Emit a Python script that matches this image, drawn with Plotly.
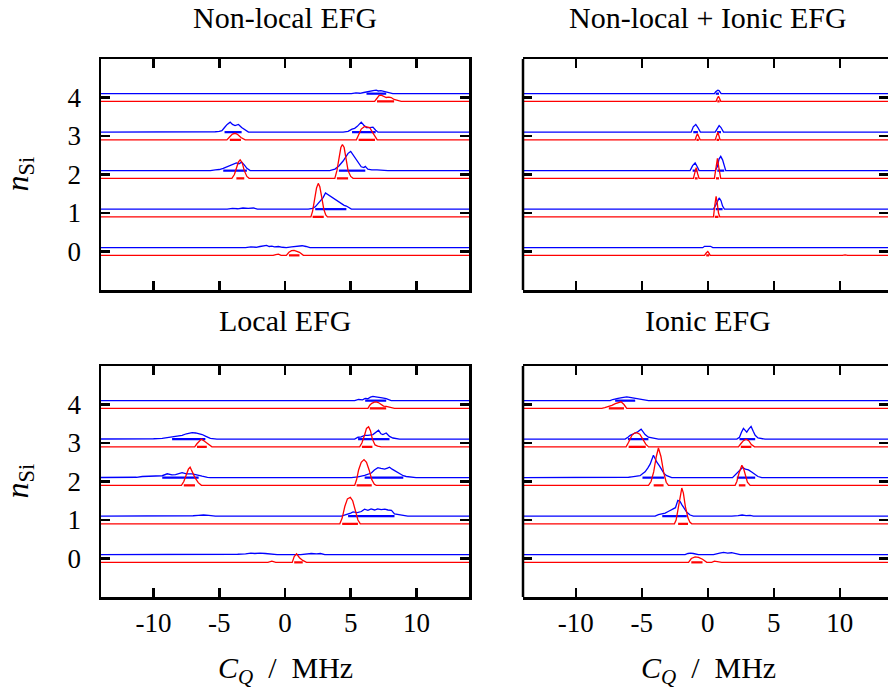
import plotly.graph_objects as go

W, H = 888, 695

# ---------------- data (C_Q in MHz, relative density heights) ----------------
PANEL_TITLES = ["Non-local EFG", "Non-local + Ionic EFG", "Local EFG", "Ionic EFG"]
X_TICKS = [-10, -5, 0, 5, 10]
Y_TICKS = [0, 1, 2, 3, 4]

# Non-local EFG
NL_BLUE_X = [
    [-3.0, -2.6, -2.2, -1.9, -1.6, -1.4, -1.2, -1.0, -0.8, -0.5, -0.2, 0.1, 0.5, 0.8, 1.0, 1.3, 1.6, 1.9],
    [-4.4, -4.0, -3.6, -3.2, -2.8, -2.4, -2.1, 1.77, 2.1, 2.3, 2.5, 2.73, 2.9, 3.08, 3.25, 3.41, 3.6, 3.79, 4.0, 4.29, 4.5, 4.67, 4.85, 5.05],
    [-5.68, -5.3, -5.0, -4.7, -4.4, -4.1, -3.9, -3.7, -3.5, -3.3, -3.1, -2.9, -2.65, 3.4, 3.8, 4.1, 4.42, 4.6, 4.8, 5.0, 5.2, 5.4, 5.56, 5.8, 6.0, 6.11, 6.3, 6.6, 7.0, 7.4, 7.83],
    [-5.68, -5.3, -5.0, -4.8, -4.6, -4.4, -4.17, -4.0, -3.8, -3.54, -3.3, -3.0, -2.78, 4.42, 4.8, 5.1, 5.3, 5.5, 5.8, 6.0, 6.2, 6.45, 6.69, 6.9, 7.07],
    [5.05, 5.4, 5.7, 6.0, 6.2, 6.5, 6.7, 6.94, 7.1, 7.3, 7.5, 7.7, 7.9, 8.2],
]
NL_BLUE_H = [
    [0, 0.02, 0.01, 0.03, 0.04, 0.06, 0.03, 0.04, 0.02, 0.03, 0.01, 0, 0.02, 0.03, 0.04, 0.05, 0.03, 0],
    [0, 0.02, 0.01, 0.03, 0.02, 0.03, 0, 0, 0.02, 0.06, 0.15, 0.24, 0.3, 0.42, 0.38, 0.35, 0.31, 0.27, 0.22, 0.15, 0.1, 0.08, 0.04, 0],
    [0, 0.02, 0.03, 0.06, 0.1, 0.15, 0.17, 0.2, 0.18, 0.22, 0.15, 0.06, 0, 0, 0.04, 0.12, 0.25, 0.33, 0.45, 0.5, 0.4, 0.3, 0.2, 0.1, 0.08, 0.11, 0.04, 0.02, 0.02, 0.01, 0],
    [0, 0.01, 0.02, 0.04, 0.12, 0.2, 0.26, 0.2, 0.17, 0.2, 0.12, 0.04, 0, 0, 0.02, 0.08, 0.1, 0.15, 0.26, 0.18, 0.12, 0.12, 0.13, 0.05, 0],
    [0, 0.02, 0.01, 0.03, 0.05, 0.06, 0.08, 0.09, 0.07, 0.08, 0.06, 0.05, 0.03, 0],
]
NL_RED_X = [
    [-0.9, -0.7, -0.5, -0.3, 0.1, 0.3, 0.5, 0.7, 0.9, 1.1, 1.4, 10.4, 10.6, 10.8],
    [1.97, 2.1, 2.25, 2.4, 2.53, 2.65, 2.8, 2.95, 3.1, 3.23],
    [-4.04, -3.85, -3.7, -3.55, -3.41, -3.25, -3.1, -2.9, -2.73, 3.79, 3.95, 4.1, 4.25, 4.37, 4.5, 4.65, 4.8, 5.0, 5.18],
    [-4.42, -4.2, -4.0, -3.79, -3.6, -3.35, -3.03, 5.43, 5.6, 5.8, 6.06, 6.25, 6.44, 6.65, 6.85, 7.02],
    [6.82, 7.0, 7.15, 7.32, 7.5, 7.7, 7.9, 8.08, 8.3, 8.55, 8.84],
]
NL_RED_H = [
    [0, 0.02, 0.03, 0, 0, 0.08, 0.12, 0.13, 0.11, 0.08, 0, 0, 0.015, 0],
    [0, 0.15, 0.45, 0.75, 0.87, 0.78, 0.5, 0.2, 0.05, 0],
    [0, 0.1, 0.25, 0.42, 0.48, 0.4, 0.2, 0.05, 0, 0, 0.2, 0.5, 0.8, 0.88, 0.8, 0.5, 0.2, 0.05, 0],
    [0, 0.08, 0.15, 0.17, 0.14, 0.06, 0, 0, 0.12, 0.28, 0.35, 0.34, 0.32, 0.2, 0.08, 0],
    [0, 0.08, 0.15, 0.16, 0.14, 0.1, 0.11, 0.1, 0.05, 0.02, 0],
]

# Non-local + Ionic EFG
NLI_BLUE_X = [
    [-0.38, -0.25, -0.1, 0.05, 0.2, 0.38],
    [-0.85, -0.7, -0.55, 0.43, 0.6, 0.75, 0.86, 1.0, 1.12, 1.26],
    [-1.34, -1.15, -0.96, -0.8, -0.66, 0.56, 0.72, 0.85, 0.98, 1.12, 1.25, 1.36],
    [-1.26, -1.1, -0.91, -0.75, -0.56, 0.56, 0.7, 0.86, 1.0, 1.19],
    [0.5, 0.6, 0.7, 0.76, 0.85, 0.92, 1.01],
]
NLI_BLUE_H = [
    [0, 0.035, 0.04, 0.03, 0.035, 0],
    [0, 0.01, 0, 0, 0.1, 0.24, 0.29, 0.22, 0.08, 0],
    [0, 0.13, 0.2, 0.1, 0, 0, 0.1, 0.3, 0.37, 0.28, 0.1, 0],
    [0, 0.14, 0.2, 0.12, 0, 0, 0.1, 0.17, 0.12, 0],
    [0, 0.05, 0.08, 0.09, 0.08, 0.04, 0],
]
NLI_RED_X = [
    [-0.25, -0.12, 0.0, 0.1, 0.18, 10.2, 10.4, 10.6],
    [0.43, 0.53, 0.63, 0.72, 0.81, 0.91],
    [-1.09, -0.98, -0.88, -0.77, -0.66, 0.5, 0.62, 0.73, 0.85, 0.98],
    [-0.96, -0.86, -0.78, -0.68, -0.58, 0.56, 0.66, 0.76, 0.85, 0.93],
    [0.63, 0.72, 0.81, 0.9, 0.98],
]
NLI_RED_H = [
    [0, 0.06, 0.1, 0.05, 0, 0, 0.01, 0],
    [0, 0.3, 0.53, 0.35, 0.1, 0],
    [0, 0.15, 0.28, 0.12, 0, 0, 0.3, 0.52, 0.25, 0],
    [0, 0.1, 0.16, 0.08, 0, 0, 0.12, 0.2, 0.1, 0],
    [0, 0.08, 0.13, 0.07, 0],
]

# Local EFG
L_BLUE_X = [
    [-4.17, -3.6, -3.0, -2.6, -2.3, -1.9, -1.5, -1.0, -0.6, 1.2, 1.6, 2.0, 2.4, 2.7, 3.03],
    [-7.95, -7.5, -7.0, -6.6, -6.2, -5.8, -5.3, 4.29, 4.6, 4.8, 5.0, 5.18, 5.5, 5.81, 6.05, 6.31, 6.55, 6.82, 7.05, 7.32, 7.6, 7.83, 8.1, 8.33, 8.6, 8.84, 9.34],
    [-11.87, -11.3, -10.86, -10.3, -9.8, -9.34, -8.96, -8.6, -8.33, -8.05, -7.83, -7.5, -7.07, -6.8, -6.57, -6.31, -5.9, -5.68,
     5.05, 5.56, 6.06, 6.3, 6.57, 6.8, 7.07, 7.3, 7.58, 7.8, 7.95, 8.15, 8.33, 8.71, 9.0, 9.22, 9.6, 9.97],
    [-10.48, -10.0, -9.34, -9.0, -8.59, -8.2, -7.83, -7.5, -7.07, -6.8, -6.57, -6.3, -6.06, -5.68, -5.18,
     5.3, 5.56, 5.8, 6.06, 6.3, 6.69, 6.9, 7.12, 7.3, 7.45, 7.7, 7.95, 8.21, 8.71],
    [5.3, 5.6, 5.9, 6.1, 6.3, 6.5, 6.69, 6.9, 7.1, 7.4, 7.7, 8.08],
]
L_BLUE_H = [
    [0, 0.01, 0.02, 0.04, 0.03, 0.04, 0.03, 0.02, 0, 0, 0.02, 0.03, 0.02, 0.03, 0],
    [0, 0.01, 0.01, 0.02, 0.03, 0.02, 0, 0, 0.03, 0.06, 0.08, 0.11, 0.09, 0.12, 0.18, 0.15, 0.19, 0.16, 0.19, 0.17, 0.18, 0.16, 0.15, 0.06, 0.04, 0.03, 0],
    [0, 0.01, 0.03, 0.04, 0.03, 0.05, 0.1, 0.07, 0.08, 0.1, 0.13, 0.1, 0.1, 0.08, 0.07, 0.04, 0.01, 0,
     0, 0.02, 0.06, 0.09, 0.12, 0.2, 0.26, 0.24, 0.22, 0.25, 0.27, 0.22, 0.18, 0.1, 0.05, 0.03, 0.02, 0],
    [0, 0.01, 0.02, 0.04, 0.06, 0.09, 0.1, 0.14, 0.17, 0.16, 0.15, 0.12, 0.08, 0.02, 0,
     0, 0.05, 0.06, 0.1, 0.1, 0.12, 0.18, 0.23, 0.14, 0.12, 0.16, 0.07, 0.03, 0],
    [0, 0.03, 0.02, 0.06, 0.05, 0.09, 0.11, 0.1, 0.08, 0.07, 0.05, 0],
]
L_RED_X = [
    [-9.9, -9.7, -9.5, -1.3, -1.0, -0.7, 0.55, 0.7, 0.88, 1.1, 1.35, 1.64],
    [4.17, 4.35, 4.55, 4.75, 4.97, 5.15, 5.35, 5.55, 5.73],
    [-7.88, -7.7, -7.5, -7.35, -7.22, -7.05, -6.85, -6.6, -6.36, 5.3, 5.45, 5.6, 5.8, 6.01, 6.2, 6.4, 6.6, 6.8, 6.94],
    [-6.87, -6.7, -6.5, -6.36, -6.15, -5.95, -5.75, -5.56, 5.68, 5.85, 6.05, 6.2, 6.36, 6.5, 6.65, 6.85, 7.05, 7.32],
    [6.31, 6.45, 6.6, 6.8, 6.94, 7.1, 7.3, 7.5, 7.7, 7.9, 8.33],
]
L_RED_H = [
    [0, 0.01, 0, 0, 0.03, 0, 0, 0.15, 0.22, 0.12, 0.05, 0],
    [0, 0.15, 0.45, 0.65, 0.69, 0.6, 0.35, 0.1, 0],
    [0, 0.1, 0.28, 0.42, 0.47, 0.35, 0.2, 0.07, 0, 0, 0.15, 0.4, 0.6, 0.67, 0.6, 0.4, 0.15, 0.03, 0],
    [0, 0.08, 0.16, 0.2, 0.15, 0.1, 0.04, 0, 0, 0.1, 0.3, 0.48, 0.52, 0.42, 0.2, 0.05, 0.02, 0],
    [0, 0.08, 0.13, 0.16, 0.17, 0.15, 0.1, 0.06, 0.05, 0.03, 0],
]

# Ionic EFG
I_BLUE_X = [
    [-1.72, -1.5, -1.3, -1.1, -0.9, -0.71, 0.43, 0.7, 0.9, 1.2, 1.5, 1.8, 2.1, 2.45],
    [-3.99, -3.74, -3.45, -3.23, -3.0, -2.85, -2.6, -2.45, -2.27, -2.1, -1.97, -1.8, -1.59, -1.34, -1.09,
     1.82, 2.1, 2.3, 2.6, 2.9, 3.2, 3.46],
    [-6.52, -6.0, -5.76, -5.4, -5.13, -4.95, -4.75, -4.55, -4.37, -4.12, -3.86, -3.65, -3.48, -3.3, -3.11, -2.73,
     1.87, 2.05, 2.2, 2.45, 2.63, 2.85, 3.08, 3.35, 3.59, 3.8, 4.09],
    [-6.26, -6.05, -5.88, -5.63, -5.35, -5.05, -4.9, -4.75, -4.5, -4.24, -3.74,
     2.2, 2.4, 2.55, 2.7, 2.85, 2.95, 3.1, 3.28, 3.45, 3.59, 3.8, 4.09, 4.34],
    [-7.4, -7.2, -7.02, -6.8, -6.5, -6.14, -5.8, -5.5, -5.2, -5.0, -4.75, -4.49],
]
I_BLUE_H = [
    [0, 0.03, 0.04, 0.03, 0.02, 0, 0, 0.03, 0.04, 0.06, 0.04, 0.05, 0.03, 0],
    [0, 0.04, 0.06, 0.08, 0.12, 0.15, 0.2, 0.22, 0.41, 0.38, 0.3, 0.2, 0.1, 0.03, 0,
     0, 0.02, 0.015, 0.03, 0.015, 0.02, 0],
    [0, 0.01, 0.02, 0.03, 0.05, 0.1, 0.15, 0.25, 0.35, 0.58, 0.4, 0.3, 0.2, 0.1, 0.05, 0,
     0, 0.06, 0.12, 0.2, 0.26, 0.22, 0.2, 0.14, 0.08, 0.03, 0],
    [0, 0.05, 0.1, 0.14, 0.18, 0.26, 0.18, 0.12, 0.05, 0.03, 0,
     0, 0.05, 0.18, 0.28, 0.22, 0.18, 0.26, 0.33, 0.2, 0.1, 0.03, 0.02, 0],
    [0, 0.03, 0.05, 0.06, 0.08, 0.1, 0.08, 0.06, 0.04, 0.03, 0.02, 0],
]
I_RED_X = [
    [-1.46, -1.25, -0.96, -0.7, -0.4, -0.08, 0.3, 0.5, 0.7, 1.06],
    [-2.53, -2.4, -2.25, -2.1, -1.97, -1.85, -1.7, -1.5, -1.35, -1.21],
    [-4.49, -4.3, -4.1, -3.9, -3.74, -3.55, -3.35, -3.15, -2.98, 2.07, 2.2, 2.35, 2.5, 2.58, 2.7, 2.85, 3.0, 3.21],
    [-6.19, -6.0, -5.75, -5.55, -5.38, -5.15, -4.9, -4.7, -4.49, 2.32, 2.5, 2.7, 2.9, 3.1, 3.3, 3.54],
    [-8.03, -7.8, -7.5, -7.27, -7.0, -6.8, -6.57, -6.35, -6.14],
]
I_RED_H = [
    [0, 0.1, 0.14, 0.13, 0.08, 0, 0, 0.03, 0.02, 0],
    [0, 0.1, 0.4, 0.75, 0.93, 0.8, 0.45, 0.15, 0.04, 0],
    [0, 0.1, 0.35, 0.75, 0.97, 0.75, 0.35, 0.08, 0, 0, 0.1, 0.3, 0.48, 0.52, 0.45, 0.25, 0.08, 0],
    [0, 0.12, 0.3, 0.36, 0.37, 0.33, 0.2, 0.07, 0, 0, 0.08, 0.16, 0.2, 0.16, 0.06, 0],
    [0, 0.02, 0.05, 0.08, 0.12, 0.14, 0.17, 0.1, 0],
]

PANELS = [
    (NL_BLUE_X, NL_BLUE_H, NL_RED_X, NL_RED_H),
    (NLI_BLUE_X, NLI_BLUE_H, NLI_RED_X, NLI_RED_H),
    (L_BLUE_X, L_BLUE_H, L_RED_X, L_RED_H),
    (I_BLUE_X, I_BLUE_H, I_RED_X, I_RED_H),
]

# ---------------- styling / layout ----------------
BLUE = "#0000ff"
RED = "#ff0000"
BLUE_OFF = 0.1
RED_OFF = -0.1
X_FULL = [-16, 16]
RUG_FRAC = 0.12         # stretches above this fraction of the row maximum get a dense "rug"
RUG_MIN = 0.05
FONT = "Liberation Serif"
FS_TICK = 27
FS_TITLE = 30
FS_AXTITLE = 30
FS_YTITLE = 32

# pixel geometry of the panels
PX = [(101, 469), (523, 888)]      # left/right columns
PY = [(59, 290), (366, 597)]       # top/bottom rows
X_RANGES = [[-14, 14], [-14, (888 - 523) / 13.2 - 14]]


def px2x(p):
    return p / W


def py2y(p):
    return 1 - p / H


def rug_segments(xs, hs):
    """x list (with None gaps) covering stretches where the density is high."""
    thr = max(max(hs) * RUG_FRAC, RUG_MIN)
    X = []
    run = []
    for x, h in zip(list(xs) + [None], list(hs) + [0]):
        if x is not None and h >= thr:
            run.append(x)
        else:
            if len(run) >= 2:
                X += [run[0], run[-1], None]
            run = []
    return X


fig = go.Figure()

for k, (bx, bh, rx, rh) in enumerate(PANELS):
    sfx = "" if k == 0 else str(k + 1)
    for xs_rows, hs_rows, off, col in ((bx, bh, BLUE_OFF, BLUE), (rx, rh, RED_OFF, RED)):
        for n, (xs, hs) in enumerate(zip(xs_rows, hs_rows)):
            base = Y_TICKS[n] + off
            X = [X_FULL[0]] + list(xs) + [X_FULL[1]]
            Y = [base] + [base + h for h in hs] + [base]
            fig.add_trace(go.Scatter(
                x=X, y=Y, mode="lines",
                line=dict(color=col, width=1.3),
                xaxis="x" + sfx, yaxis="y" + sfx,
                showlegend=False, hoverinfo="skip",
            ))
            RX = rug_segments(xs, hs)
            if RX:
                RY = [None if v is None else base for v in RX]
                fig.add_trace(go.Scatter(
                    x=RX, y=RY, mode="lines",
                    line=dict(color=col, width=2.2),
                    xaxis="x" + sfx, yaxis="y" + sfx,
                    showlegend=False, hoverinfo="skip",
                ))

layout = dict(
    width=W, height=H, autosize=False,
    margin=dict(l=0, r=0, t=0, b=0),
    paper_bgcolor="white", plot_bgcolor="white",
    font=dict(family=FONT, size=FS_TICK, color="black"),
    showlegend=False,
)

shapes = []
annotations = []
for k in range(4):
    r, c = divmod(k, 2)
    sfx = "" if k == 0 else str(k + 1)
    xd = [px2x(PX[c][0]), px2x(PX[c][1])]
    yd = [py2y(PY[r][1]), py2y(PY[r][0])]
    layout["xaxis" + sfx] = dict(
        domain=xd, range=X_RANGES[c], anchor="y" + sfx,
        tickvals=X_TICKS, ticktext=[str(v) for v in X_TICKS],
        ticks="inside", ticklen=9, tickwidth=2.5, tickcolor="black",
        showline=True, linewidth=2.5, linecolor="black", mirror="ticks",
        showgrid=False, zeroline=False,
        showticklabels=(r == 1), ticklabelstandoff=0,
        tickfont=dict(family=FONT, size=FS_TICK, color="black"),
    )
    layout["yaxis" + sfx] = dict(
        domain=yd, range=[-1, 5], anchor="x" + sfx,
        tickvals=Y_TICKS, ticktext=[str(v) for v in Y_TICKS],
        ticks="inside", ticklen=9, tickwidth=2.5, tickcolor="black",
        showline=(c == 0), linewidth=2.5, linecolor="black", mirror="ticks",
        showgrid=False, zeroline=False,
        showticklabels=(c == 0), ticklabelstandoff=12,
        tickfont=dict(family=FONT, size=FS_TICK, color="black"),
    )
    if c == 1:
        shapes.append(dict(type="line", xref="paper", yref="paper",
                           x0=xd[0], x1=xd[0], y0=yd[0], y1=yd[1],
                           line=dict(color="black", width=2.5)))
    # panel title (centred on C_Q = 0)
    cx = [285, 708][c]
    if r == 0:
        annotations.append(dict(text=PANEL_TITLES[k], x=px2x(cx), y=1.0,
                                xref="paper", yref="paper", showarrow=False,
                                xanchor="center", yanchor="top", borderpad=0,
                                font=dict(family=FONT, size=FS_TITLE, color="black")))
    else:
        annotations.append(dict(text=PANEL_TITLES[k], x=px2x(cx), y=py2y(321),
                                xref="paper", yref="paper", showarrow=False,
                                xanchor="center", yanchor="middle",
                                font=dict(family=FONT, size=FS_TITLE, color="black")))
    if r == 1:
        annotations.append(dict(text="<i>C</i><sub><i>Q</i></sub>&#160;&#160;/&#160;&#160;MHz",
                                x=px2x(cx), y=py2y(670), xref="paper", yref="paper",
                                showarrow=False, xanchor="center", yanchor="middle",
                                font=dict(family=FONT, size=FS_AXTITLE, color="black")))
    if c == 0:
        annotations.append(dict(text="<i>n</i><sub>Si</sub>", textangle=-90,
                                x=px2x(19), y=py2y((PY[r][0] + PY[r][1]) / 2),
                                xref="paper", yref="paper", showarrow=False,
                                xanchor="center", yanchor="middle",
                                font=dict(family=FONT, size=FS_YTITLE, color="black")))

layout["shapes"] = shapes
layout["annotations"] = annotations
fig.update_layout(**layout)
fig.write_html("out.html",
               config={"displayModeBar": False, "staticPlot": True},
               post_script="document.body.style.margin='0px';document.body.style.overflow='hidden';")
